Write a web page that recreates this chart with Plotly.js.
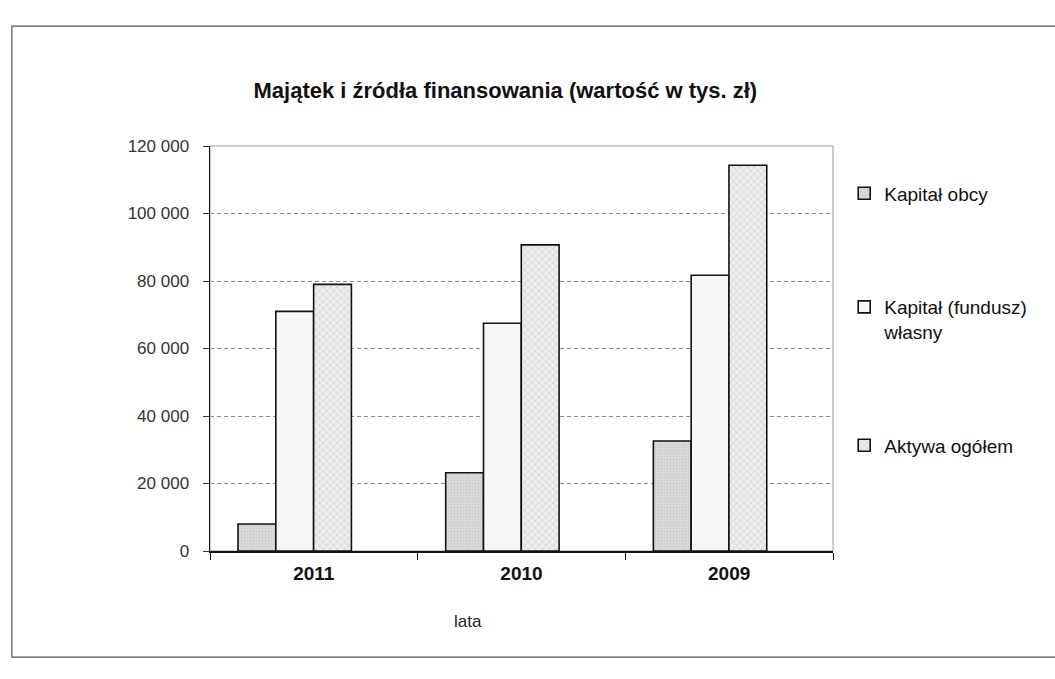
<!DOCTYPE html>
<html>
<head>
<meta charset="utf-8">
<script src="https://cdn.plot.ly/plotly-3.0.1.min.js"></script>
<style>
html,body{margin:0;padding:0;background:#fff;}
#chart{width:1055px;height:679px;}
</style>
</head>
<body>
<div id="chart"></div>
<script>
var years = ["2011", "2010", "2009"];
var kapitalObcy = [8000, 23200, 32600];
var kapitalWlasny = [71000, 67500, 81700];
var aktywaOgolem = [79000, 90700, 114300];
var seriesNames = ["Kapitał obcy", "Kapitał (fundusz)<br>własny", "Aktywa ogółem"];
var yTicks = [0, 20000, 40000, 60000, 80000, 100000, 120000];

var FONT = "Liberation Sans, Arial, sans-serif";
var barW = 0.182;

var traces = [
  {
    type: "bar", x: years, y: kapitalObcy, name: seriesNames[0], legendgroup: "a",
    width: barW, offset: -0.365,
    marker: {color: "#d6d6d6", line: {color: "#111", width: 1.6},
      pattern: {shape: ".", fgcolor: "#c6c6c6", bgcolor: "#dadada", size: 3, solidity: 0.25}}
  },
  {
    type: "bar", x: years, y: kapitalWlasny, name: seriesNames[1], legendgroup: "b",
    width: barW, offset: -0.183,
    marker: {color: "#f6f6f6", line: {color: "#111", width: 1.6}}
  },
  {
    type: "bar", x: years, y: aktywaOgolem, name: seriesNames[2], legendgroup: "c",
    width: barW, offset: -0.001,
    marker: {color: "#e8e8e8", line: {color: "#111", width: 1.6},
      pattern: {shape: "x", fgcolor: "#c4c4c4", bgcolor: "#ededed", size: 5, solidity: 0.2}}
  }
];

var layout = {
  width: 1055, height: 679,
  paper_bgcolor: "#fff", plot_bgcolor: "#fff",
  margin: {l: 210, r: 222, t: 146, b: 128},
  separators: ", ",
  font: {family: FONT, color: "#222", size: 16},
  showlegend: true,
  title: {
    text: "<b>Majątek i źródła finansowania (wartość w tys. zł)</b>",
    font: {family: FONT, size: 22, color: "#111"},
    xref: "container", yref: "container",
    x: 0.479, y: 0.867, xanchor: "center", yanchor: "middle"
  },
  xaxis: {
    type: "category",
    showline: true, linecolor: "#111", linewidth: 1.5,
    ticks: "outside", tickson: "boundaries", ticklen: 7, tickcolor: "#111",
    tickfont: {family: FONT, size: 19, color: "#111", weight: "bold"},
    ticklabelstandoff: 5,
    showgrid: false, zeroline: false, fixedrange: true
  },
  yaxis: {
    range: [0, 120000],
    tickvals: yTicks,
    tickformat: ",d",
    showline: true, linecolor: "#111", linewidth: 1.5,
    ticks: "outside", ticklen: 6, tickcolor: "#333",
    tickfont: {family: FONT, size: 17, color: "#333"},
    ticklabelstandoff: 10,
    showgrid: true, gridcolor: "#8a8a8a", griddash: "4px,3px", gridwidth: 1,
    zeroline: false, fixedrange: true
  },
  legend: {
    x: 1.018, y: 0.93, xanchor: "left", yanchor: "top",
    font: {family: FONT, size: 19, color: "#111"},
    tracegroupgap: 86, valign: "top",
    bgcolor: "rgba(0,0,0,0)", traceorder: "grouped"
  },
  annotations: [
    {text: "lata", xref: "paper", yref: "paper", x: 0.414, y: -0.175,
     xanchor: "center", yanchor: "middle", showarrow: false,
     font: {family: FONT, size: 17, color: "#222"}}
  ],
  shapes: [
    {type: "rect", xref: "paper", yref: "paper", x0: 0, x1: 1, y0: 0, y1: 1,
     line: {color: "#999", width: 1}, layer: "below"},
    {type: "rect", xref: "paper", yref: "paper", x0: -0.318, x1: 1.37, y0: -0.262, y1: 1.296,
     line: {color: "#555", width: 1.2}, layer: "below"}
  ]
};

Plotly.newPlot("chart", traces, layout, {displayModeBar: false, staticPlot: true});
</script>
</body>
</html>
